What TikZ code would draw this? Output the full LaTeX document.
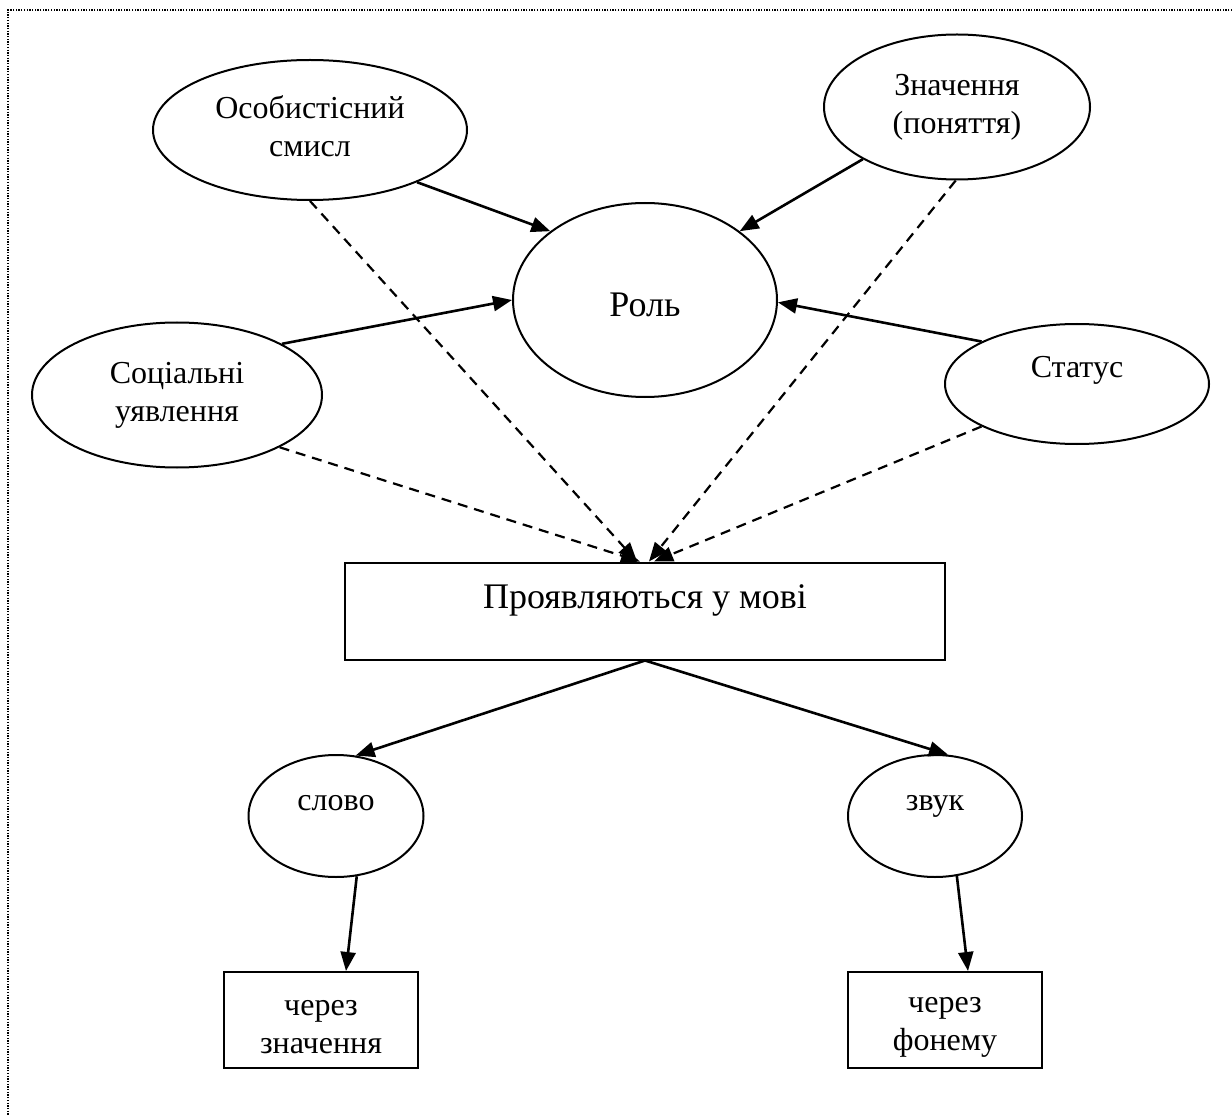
\documentclass[tikz,border=0pt]{standalone}
\usepackage{fontspec}
\setmainfont{Liberation Serif}
\usetikzlibrary{arrows.meta,shapes.geometric}
\begin{document}
\begin{tikzpicture}[x=1pt,y=-1pt,
  every node/.style={inner sep=0pt, align=center, font=\fontsize{32}{38}\selectfont},
  oval/.style={draw, ellipse, line width=2pt},
  box/.style={draw, rectangle, line width=2pt},
  big/.style={font=\fontsize{36}{42}\selectfont},
  arr/.style={line width=2.6pt, -{Triangle[length=19pt,width=15pt]}},
  darr/.style={line width=2.2pt, dash pattern=on 10pt off 7pt, -{Triangle[length=19pt,width=15pt]}},
  frame/.style={line width=1.5pt, dash pattern=on 1.3pt off 1.4pt}
]
\useasboundingbox (0,0) rectangle (1232,1115);
\draw[frame] (1232,10) -- (8,10) -- (8,1115);

\node[oval, minimum width=314pt, minimum height=140pt, text height=53pt] (os) at (310,130) {Особистісний\\смисл};
\node[oval, minimum width=266pt, minimum height=145pt] (zn) at (957,107) {Значення\\(поняття)};
\node[oval, big, minimum width=264pt, minimum height=194pt, text height=34pt] (rol) at (645,300) {Роль};
\node[oval, minimum width=290pt, minimum height=145pt] (soc) at (177,395) {Соціальні\\уявлення};
\node[oval, minimum width=264pt, minimum height=120pt, text depth=34pt] (stat) at (1077,384) {Статус};
\node[box, big, minimum width=600pt, minimum height=97pt, text depth=29pt] (pr) at (645,611) {Проявляються у мові};
\node[oval, minimum width=175pt, minimum height=122pt, text depth=26pt] (sl) at (336,816) {слово};
\node[oval, minimum width=174pt, minimum height=122pt, text depth=26pt] (zv) at (935,816) {звук};
\node[box, minimum width=194pt, minimum height=96pt, text height=67pt] (cz) at (321,1020) {через\\значення};
\node[box, minimum width=194pt, minimum height=96pt, text height=67pt] (cf) at (945,1020) {через\\фонему};

\draw[arr] (os.-26) -- (rol.144);
\draw[arr] (zn.-151) -- (rol.36);
\draw[arr] (soc.26) -- (rol.180);
\draw[arr] (stat.156) -- (rol.-1);

\draw[darr] (os.-90) -- ([xshift=-8pt]pr.north);
\draw[darr] (soc.-27) -- ([xshift=-5pt]pr.north);
\draw[darr] (zn.-91) -- ([xshift=4pt]pr.north);
\draw[darr] (stat.-156) -- ([xshift=9pt]pr.north);

\draw[arr] (pr.south) -- (sl.72);
\draw[arr] (pr.south) -- (zv.78);
\draw[arr] (sl.-71) -- ([xshift=25pt]cz.north);
\draw[arr] (zv.-70) -- ([xshift=23pt]cf.north);
\end{tikzpicture}
\end{document}
